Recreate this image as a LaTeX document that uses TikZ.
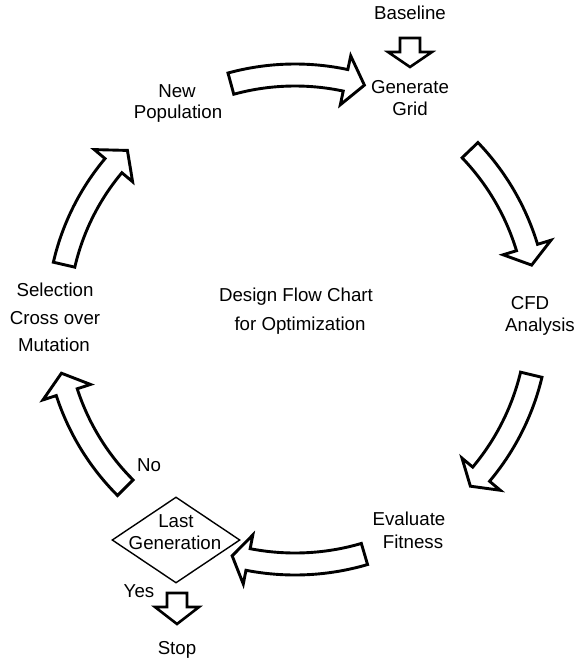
\documentclass[tikz,border=0pt]{standalone}
\usepackage{fontspec}
\setmainfont{Liberation Sans}
\usetikzlibrary{shapes.geometric}
\tikzset{
  lbl/.style={inner sep=0pt, text height=13.4pt, text depth=4pt, font=\fontsize{18.7}{22}\selectfont},
  blockarrow/.style={draw=black, fill=white, line width=2.9pt, line join=miter},
  diabox/.style={draw=black, diamond, line width=1.4pt, minimum width=128pt, minimum height=86pt, inner sep=0pt}
}
% #1 tail angle, #2 head base angle, #3 tip angle, #4 radius
\newcommand{\curvedblockarrow}[4]{%
  \draw[blockarrow]
    plot[domain=#1:#2, samples=40] ({295+(#4+11)*cos(\x)}, {318+(#4+11)*sin(\x)})
    -- ({295+(#4+25)*cos(#2)}, {318+(#4+25)*sin(#2)})
    -- ({295+#4*cos(#3)}, {318+#4*sin(#3)})
    -- ({295+(#4-25)*cos(#2)}, {318+(#4-25)*sin(#2)})
    -- plot[domain=#2:#1, samples=40] ({295+(#4-11)*cos(\x)}, {318+(#4-11)*sin(\x)})
    -- cycle;}
\begin{document}
\begin{tikzpicture}[x=1pt, y=-1pt]
\useasboundingbox (0,0) rectangle (579,662);
\fill[white] (0,0) rectangle (579,662);

% curved block arrows around the cycle
\curvedblockarrow{254.7}{282}{286.6}{243}
\curvedblockarrow{316.2}{343.1}{347.4}{242.5}
\curvedblockarrow{13.5}{40}{43.8}{243}
\curvedblockarrow{73.6}{101}{104.8}{246}
\curvedblockarrow{135}{162}{166.7}{240}
\curvedblockarrow{193}{220}{225}{237}

% straight down arrows
\draw[blockarrow, line width=2.6pt] (400,38) -- (420,38) -- (420,52) -- (432,52) -- (410,67) -- (388,52) -- (400,52) -- cycle;
\draw[blockarrow, line width=2.6pt] (167,593) -- (187,593) -- (187,607) -- (199,607) -- (177,624) -- (155,607) -- (167,607) -- cycle;

% decision diamond
\node[diabox] (dia) at (176,540) {};

% labels
\node[lbl] (baseline) at (410,15) {Baseline};
\node[lbl] (gen1) at (410,89) {Generate};
\node[lbl] (gen2) at (410,111) {Grid};
\node[lbl] (new1) at (177,93) {New};
\node[lbl] (new2) at (178,114) {Population};
\node[lbl] (cfd1) at (530,305) {CFD};
\node[lbl] (cfd2) at (540,327) {Analysis};
\node[lbl] (title1) at (296,297) {Design Flow Chart};
\node[lbl] (title2) at (300,326) {for Optimization};
\node[lbl] (sel1) at (55,292) {Selection};
\node[lbl] (sel2) at (55,320) {Cross over};
\node[lbl] (sel3) at (54,347) {Mutation};
\node[lbl] (no) at (149,467) {No};
\node[lbl] (eval1) at (409,521) {Evaluate};
\node[lbl] (eval2) at (413,544) {Fitness};
\node[lbl] (last1) at (176,523) {Last};
\node[lbl] (last2) at (175,545) {Generation};
\node[lbl] (yes) at (139,593) {Yes};
\node[lbl] (stop) at (177,650) {Stop};
\end{tikzpicture}
\end{document}
